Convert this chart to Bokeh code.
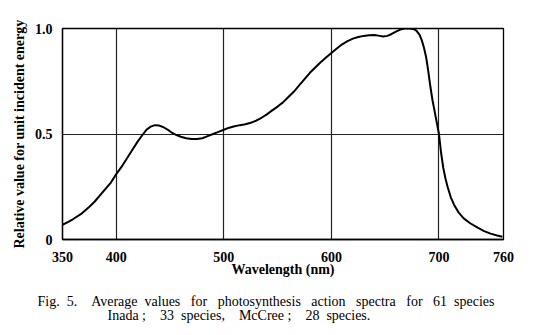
from bokeh.plotting import figure
from bokeh.models import Range1d, FixedTicker, Title
from bokeh.embed import file_html
from bokeh.resources import INLINE

# Data
wavelength = [350, 355, 360, 367, 375, 380, 385, 390, 395, 400, 405, 410, 415, 420,
              425, 428, 432, 436, 440, 444, 448, 452, 456, 460, 465, 470, 475, 480,
              485, 490, 495, 500, 505, 510, 515, 520, 525, 530, 535, 540, 545, 550,
              555, 560, 565, 570, 575, 580, 585, 590, 595, 600, 605, 610, 615, 620,
              625, 630, 635, 640, 645, 648, 652, 656, 660, 664, 668, 672, 676, 679,
              682, 684, 686, 688, 690, 692, 694, 697, 700, 702, 704, 706, 708, 711,
              714, 718, 723, 729, 736, 742, 748, 754, 759]
relative_value = [0.07, 0.082, 0.097, 0.12, 0.155, 0.18, 0.21, 0.24, 0.27, 0.31,
                  0.345, 0.385, 0.425, 0.465, 0.50, 0.52, 0.535, 0.542, 0.54, 0.532,
                  0.52, 0.505, 0.495, 0.487, 0.48, 0.476, 0.476, 0.48, 0.49, 0.50,
                  0.51, 0.52, 0.53, 0.537, 0.542, 0.546, 0.553, 0.563, 0.577, 0.593,
                  0.612, 0.63, 0.65, 0.675, 0.70, 0.73, 0.76, 0.79, 0.815, 0.84,
                  0.863, 0.884, 0.905, 0.925, 0.94, 0.952, 0.96, 0.965, 0.968, 0.969,
                  0.965, 0.962, 0.965, 0.974, 0.985, 0.995, 1.0, 1.0, 0.998, 0.99,
                  0.97, 0.945, 0.91, 0.866, 0.80, 0.725, 0.66, 0.58, 0.50, 0.41,
                  0.34, 0.29, 0.25, 0.20, 0.165, 0.13, 0.10, 0.077, 0.056, 0.04,
                  0.028, 0.019, 0.013]

x_ticks = [350, 400, 500, 600, 700, 760]
x_tick_labels = ["350", "400", "500", "600", "700", "760"]
y_ticks = [0, 0.5, 1.0]
y_tick_labels = ["0", "0.5", "1.0"]
x_grid = [400, 500, 600, 700]
y_grid = [0.5]

S2 = "\u00a0\u00a0"
S3 = "\u00a0\u00a0\u00a0"
S4 = "\u00a0\u00a0\u00a0\u00a0"
caption_1 = ("Fig." + S2 + "5." + S4 + "Average" + S2 + "values" + S3 + "for" + S3 +
             "photosynthesis" + S3 + "action" + S3 + "spectra" + S3 + "for" + S3 +
             "61" + S2 + "species")
caption_2 = "Inada\u00a0;" + S4 + "33" + S2 + "species," + S4 + "McCree\u00a0;" + S4 + "28" + S2 + "species."
caption_indent = "\u00a0" * 20

SERIF = "Liberation Serif"

p = figure(frame_width=441, frame_height=211, output_backend="svg",
           toolbar_location=None,
           x_range=Range1d(350, 760), y_range=Range1d(0, 1),
           min_border_left=62, min_border_right=30, min_border_top=28,
           min_border_bottom=0)
p.background_fill_color = "white"
p.border_fill_color = "white"
p.outline_line_color = "black"
p.outline_line_width = 1.3

p.line(wavelength, relative_value, line_color="black", line_width=2)

# axes
p.xaxis.ticker = FixedTicker(ticks=x_ticks)
p.xaxis.major_label_overrides = dict(zip(x_ticks, x_tick_labels))
p.yaxis.ticker = FixedTicker(ticks=y_ticks)
p.yaxis.major_label_overrides = dict(zip(y_ticks, y_tick_labels))
for ax in (p.xaxis, p.yaxis):
    ax.major_tick_line_color = None
    ax.minor_tick_line_color = None
    ax.axis_line_color = "black"
    ax.axis_line_width = 1.3
    ax.major_label_text_font = SERIF
    ax.major_label_text_font_style = "bold"
    ax.major_label_text_font_size = "14px"
    ax.major_label_text_color = "black"
    ax.axis_label_text_font = SERIF
    ax.axis_label_text_font_style = "bold"
    ax.axis_label_text_color = "black"
    ax.axis_label_text_font_size = "14px"
p.xaxis.major_label_standoff = 6
p.yaxis.major_label_standoff = 4
p.xaxis.axis_label = "Wavelength\u00a0(nm)"
p.xaxis.axis_label_standoff = -3
p.yaxis.axis_label = "Relative value for unit incident energy"
p.yaxis.axis_label_standoff = 5

p.xgrid.ticker = FixedTicker(ticks=x_grid)
p.ygrid.ticker = FixedTicker(ticks=y_grid)
for g in (p.xgrid, p.ygrid):
    g.grid_line_color = "#222222"
    g.grid_line_width = 1.2

caption = Title(text=caption_1 + "\n" + caption_indent + caption_2,
                align="left", offset=-25, standoff=25,
                text_font=SERIF, text_font_style="normal", text_font_size="14px",
                text_line_height=0.95, text_color="black")
p.add_layout(caption, "below")

open("out.html", "w").write(file_html(p, INLINE))
